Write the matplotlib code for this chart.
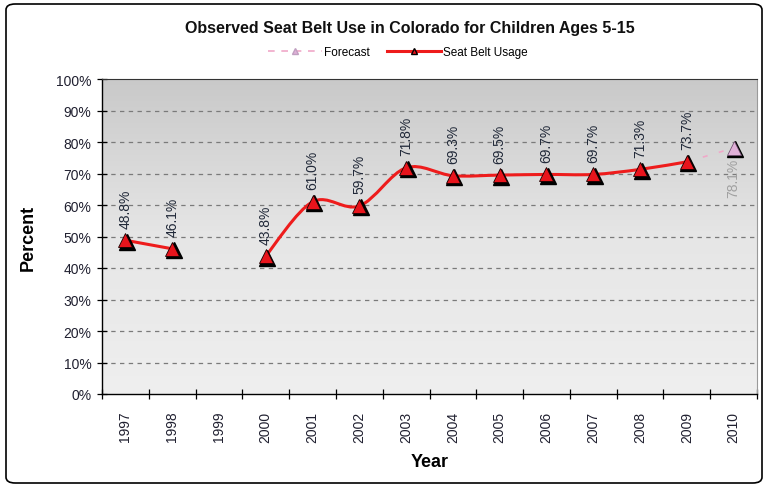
import numpy as np
import matplotlib
matplotlib.use("Agg")
import matplotlib.pyplot as plt
from matplotlib.path import Path
from matplotlib.patches import PathPatch, FancyBboxPatch
from matplotlib.lines import Line2D
from matplotlib.colors import LinearSegmentedColormap
import matplotlib.transforms as mtransforms

years = ["1997", "1998", "1999", "2000", "2001", "2002", "2003", "2004",
         "2005", "2006", "2007", "2008", "2009", "2010"]
usage = [48.8, 46.1, None, 43.8, 61.0, 59.7, 71.8, 69.3, 69.5, 69.7, 69.7, 71.3, 73.7, None]
forecast = [None] * 12 + [73.7, 78.1]
yticks = [0, 10, 20, 30, 40, 50, 60, 70, 80, 90, 100]

W, H = 767, 489
plt.rcParams['font.family'] = ['Liberation Sans', 'DejaVu Sans']
fig = plt.figure(figsize=(W / 100, H / 100), dpi=100)

# outer rounded frame
fig.patches.append(FancyBboxPatch((6 / W, 5 / H), 756 / W, 479 / H,
                                  boxstyle="round,pad=0,rounding_size=0.012",
                                  transform=fig.transFigure, fill=False,
                                  edgecolor="black", linewidth=1.2))

ax = fig.add_axes([102 / W, 1 - 395 / H, 655 / W, 315 / H])
n = len(years)
ax.set_xlim(-0.5, n - 0.5)
ax.set_ylim(0, 100)

# gradient background
grad = np.linspace(0, 1, 256).reshape(-1, 1)
cmap = LinearSegmentedColormap.from_list("g", ["#efefef", "#e6e6e6", "#c9c9c9"])
ax.imshow(grad, extent=(-0.5, n - 0.5, 0, 100), origin="lower", aspect="auto",
          cmap=cmap, zorder=0)

for t in yticks[1:-1]:
    ax.axhline(t, color="#7a7a7a", linestyle=(0, (3.5, 3.5)), linewidth=0.9, zorder=1)

ax.spines["top"].set_color("#333333")
ax.spines["right"].set_color("#9a9a9a")
for s in ["left", "bottom"]:
    ax.spines[s].set_color("black")
    ax.spines[s].set_linewidth(1.0)

ax.set_yticks(yticks)
ax.set_yticklabels([f"{t}%" for t in yticks], fontsize=10, color="#202030")
ax.tick_params(axis="y", direction="inout", length=7, width=0.9, pad=4)
ax.set_xticks(range(n))
ax.set_xticklabels(years, rotation=90, fontsize=10, color="#202030")
ax.set_xticks(np.arange(-0.5, n, 1), minor=True)
ax.tick_params(axis="x", which="major", length=0, pad=12)
ax.tick_params(axis="x", which="minor", direction="inout", length=7, width=0.9)


def smooth_segments(xs, ys):
    verts, codes = [], []
    pts = list(zip(xs, ys))
    m = len(pts)
    verts.append(pts[0]); codes.append(Path.MOVETO)
    for i in range(m - 1):
        p0 = np.array(pts[i - 1] if i > 0 else pts[i])
        p1 = np.array(pts[i])
        p2 = np.array(pts[i + 1])
        p3 = np.array(pts[i + 2] if i + 2 < m else pts[i + 1])
        c1 = p1 + (p2 - p0) / 6.0
        c2 = p2 - (p3 - p1) / 6.0
        verts += [tuple(c1), tuple(c2), tuple(p2)]
        codes += [Path.CURVE4] * 3
    return Path(verts, codes)


runs, cur = [], []
for i, v in enumerate(usage):
    if v is None:
        if cur:
            runs.append(cur)
        cur = []
    else:
        cur.append((i, v))
if cur:
    runs.append(cur)

for r in runs:
    xs = [p[0] for p in r]
    ys = [p[1] for p in r]
    ax.add_patch(PathPatch(smooth_segments(xs, ys), fill=False, edgecolor="#ee1c1c",
                           linewidth=2.2, zorder=3))

fx = [i for i, v in enumerate(forecast) if v is not None]
fy = [v for v in forecast if v is not None]
ax.plot(fx, fy, color="#f0a8c8", linestyle=(0, (3, 7)), linewidth=1.2, zorder=2)

shadow = mtransforms.offset_copy(ax.transData, fig=fig, x=1.5, y=-1.5, units="dots")
ux = [i for i, v in enumerate(usage) if v is not None]
uy = [v for v in usage if v is not None]
ax.plot(ux, uy, linestyle="none", marker="^", markersize=11, color="black",
        transform=shadow, zorder=4)
ax.plot(ux, uy, linestyle="none", marker="^", markersize=10, markerfacecolor="#e8141c",
        markeredgecolor="#1a0000", markeredgewidth=0.6, zorder=5)
ax.plot(fx[-1:], fy[-1:], linestyle="none", marker="^", markersize=11, color="black",
        transform=shadow, zorder=4)
ax.plot(fx[-1:], fy[-1:], linestyle="none", marker="^", markersize=10,
        markerfacecolor="#e0b0d8", markeredgecolor="#705070", markeredgewidth=0.5, zorder=5)

for x, y in zip(ux, uy):
    ax.annotate(f"{y:.1f}%", (x, y), xytext=(0, 9), textcoords="offset points",
                rotation=90, ha="center", va="bottom", fontsize=10, color="#202838",
                zorder=6)
ax.annotate(f"{fy[-1]:.1f}%", (fx[-1], fy[-1]), xytext=(0, -7), textcoords="offset points",
            rotation=90, ha="center", va="top", fontsize=10, color="#a0a0a0", zorder=6)

ax.set_ylabel("Percent", fontsize=13, fontweight="bold", labelpad=14)
ax.set_xlabel("Year", fontsize=13, fontweight="bold", labelpad=8)

fig.text(410 / W, 1 - 28 / H, "Observed Seat Belt Use in Colorado for Children Ages 5-15",
         ha="center", va="center", fontsize=11.5, fontweight="bold", color="#111111")

h1 = Line2D([], [], color="#f0a8c8", linestyle=(0, (4, 4)), linewidth=1.2, marker="^",
            markersize=5, markerfacecolor="#e0b0d8", markeredgecolor="#c0a0c0")
h2 = Line2D([], [], color="#ee1c1c", linewidth=2.2, marker="^", markersize=5,
            markerfacecolor="#e8141c", markeredgecolor="black")
fig.legend([h1, h2], ["Forecast", "Seat Belt Usage"], loc="center",
           bbox_to_anchor=(398 / W, 1 - 53 / H), ncol=2, frameon=False,
           fontsize=8.5, handlelength=4.5, columnspacing=1.5, handletextpad=0.2)

fig.savefig("out.png", dpi=100)
